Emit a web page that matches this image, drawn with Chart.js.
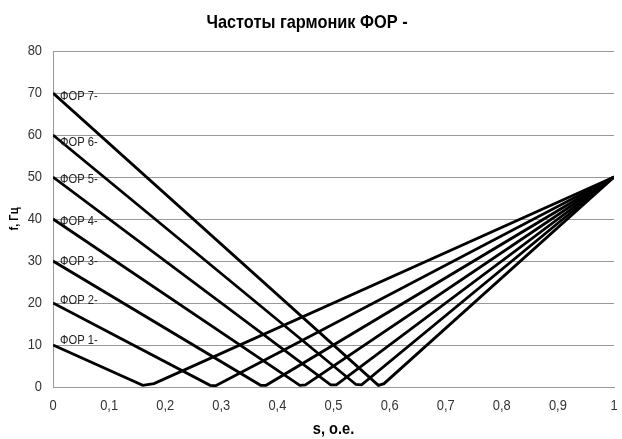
<!DOCTYPE html>
<html>
<head>
<meta charset="utf-8">
<script src="https://cdn.jsdelivr.net/npm/chart.js@4/dist/chart.umd.min.js"></script>
<style>
  html, body { margin: 0; padding: 0; background: #fff; }
  #wrap { width: 622px; height: 439px; }
</style>
</head>
<body>
<div id="wrap"><canvas id="c" width="622" height="439"></canvas></div>
<script>
// Harmonic frequencies of the reverse-sequence (ФОР -) components vs slip s
const seriesNames = ['ФОР 1-', 'ФОР 2-', 'ФОР 3-', 'ФОР 4-', 'ФОР 5-', 'ФОР 6-', 'ФОР 7-'];

// slip values: start, two points around the zero crossing, end
const slip1 = [0, 0.16, 0.18, 1];
const slip2 = [0, 0.28, 0.29, 1];
const slip3 = [0, 0.37, 0.38, 1];
const slip4 = [0, 0.44, 0.45, 1];
const slip5 = [0, 0.495, 0.505, 1];
const slip6 = [0, 0.54, 0.55, 1];
const slip7 = [0, 0.58, 0.59, 1];

// frequency, Hz
const freq1 = [10, 0.4, 0.8, 50];
const freq2 = [20, 0.4, 0.3, 50];
const freq3 = [30, 0.4, 0.4, 50];
const freq4 = [40, 0.4, 0.5, 50];
const freq5 = [50, 0.5, 0.5, 50];
const freq6 = [60, 0.6, 0.5, 50];
const freq7 = [70, 0.4, 0.8, 50];

const yTicks = [0, 10, 20, 30, 40, 50, 60, 70, 80];
const xTicks = [0, 0.1, 0.2, 0.3, 0.4, 0.5, 0.6, 0.7, 0.8, 0.9, 1];

const slips = [slip1, slip2, slip3, slip4, slip5, slip6, slip7];
const freqs = [freq1, freq2, freq3, freq4, freq5, freq6, freq7];

// vertical nudges (px) for the series name labels at s = 0
const labelNudge = [-4.5, -3, 0.5, 2, 2, 7, 3.5];

// narrow text: every string is drawn horizontally condensed
const canvas = document.getElementById('c');
const ctx2d = canvas.getContext('2d');
const NARROW = 0.86;
const nativeFill = ctx2d.fillText.bind(ctx2d);
const nativeMeasure = ctx2d.measureText.bind(ctx2d);
ctx2d.fillText = function (text, x, y, maxWidth) {
  this.save();
  this.translate(x, y);
  this.scale(NARROW, 1);
  if (maxWidth === undefined) nativeFill(text, 0, 0);
  else nativeFill(text, 0, 0, maxWidth / NARROW);
  this.restore();
};
ctx2d.measureText = function (text) {
  const m = nativeMeasure(text);
  return {
    width: m.width * NARROW,
    actualBoundingBoxLeft: m.actualBoundingBoxLeft * NARROW,
    actualBoundingBoxRight: m.actualBoundingBoxRight * NARROW,
    actualBoundingBoxAscent: m.actualBoundingBoxAscent,
    actualBoundingBoxDescent: m.actualBoundingBoxDescent,
    fontBoundingBoxAscent: m.fontBoundingBoxAscent,
    fontBoundingBoxDescent: m.fontBoundingBoxDescent
  };
};

const datasets = seriesNames.map((name, i) => ({
  label: name,
  data: slips[i].map((s, j) => ({ x: s, y: freqs[i][j] })),
  borderColor: '#000',
  backgroundColor: '#000',
  borderWidth: 2.8,
  pointRadius: 0,
  tension: 0,
  fill: false
}));

const seriesLabels = {
  id: 'seriesLabels',
  afterDatasetsDraw(chart) {
    const ctx = chart.ctx;
    const xs = chart.scales.x, ys = chart.scales.y;
    ctx.save();
    ctx.font = '13px "Liberation Sans", Arial, sans-serif';
    ctx.fillStyle = '#222';
    ctx.textAlign = 'left';
    ctx.textBaseline = 'middle';
    chart.data.datasets.forEach((ds, i) => {
      const p = ds.data[0];
      ctx.fillText(ds.label, xs.getPixelForValue(p.x) + 7, ys.getPixelForValue(p.y) + labelNudge[i]);
    });
    ctx.restore();
  }
};

const fmt = v => String(Math.round(v * 10) / 10).replace('.', ',');
const FONT = '"Liberation Sans", Arial, sans-serif';

new Chart(ctx2d, {
  type: 'line',
  data: { datasets },
  options: {
    responsive: false,
    animation: false,
    layout: { padding: { left: 0, right: 8, top: 0, bottom: 0 } },
    plugins: {
      legend: { display: false },
      tooltip: { enabled: false },
      title: {
        display: true,
        text: 'Частоты гармоник ФОР -',
        color: '#000',
        font: { family: FONT, size: 19, weight: 'bold', lineHeight: 1.2 },
        padding: { top: 11.1, bottom: 17.1 }
      }
    },
    scales: {
      x: {
        type: 'linear',
        min: 0, max: 1,
        afterFit(scale) {
          scale.height = 52;
          scale.paddingLeft = 0;
          scale.paddingRight = 0;
        },
        afterBuildTicks(scale) { scale.ticks = xTicks.map(v => ({ value: v })); },
        ticks: {
          color: '#333',
          font: { family: FONT, size: 15 },
          padding: 10,
          maxRotation: 0,
          callback: v => fmt(v)
        },
        grid: { display: false, drawTicks: false },
        border: { display: true, color: '#999', width: 1 },
        title: {
          display: true,
          text: 's, о.е.',
          color: '#000',
          font: { family: FONT, size: 17, weight: 'bold', lineHeight: 1.1 },
          padding: { top: 0, bottom: 0 }
        }
      },
      y: {
        type: 'linear',
        min: 0, max: 80,
        afterFit(scale) {
          scale.width = 53;
          scale.paddingTop = 0;
          scale.paddingBottom = 0;
        },
        afterBuildTicks(scale) { scale.ticks = yTicks.map(v => ({ value: v })); },
        ticks: {
          color: '#333',
          font: { family: FONT, size: 15 },
          padding: 11
        },
        grid: { color: '#999', lineWidth: 1, drawTicks: false },
        border: { display: true, color: '#999', width: 1 },
        title: {
          display: true,
          text: 'f, Гц',
          color: '#000',
          font: { family: FONT, size: 13, weight: 'bold', lineHeight: 1.2 },
          padding: { top: 6.5, bottom: 0 }
        }
      }
    }
  },
  plugins: [seriesLabels]
});
</script>
</body>
</html>
